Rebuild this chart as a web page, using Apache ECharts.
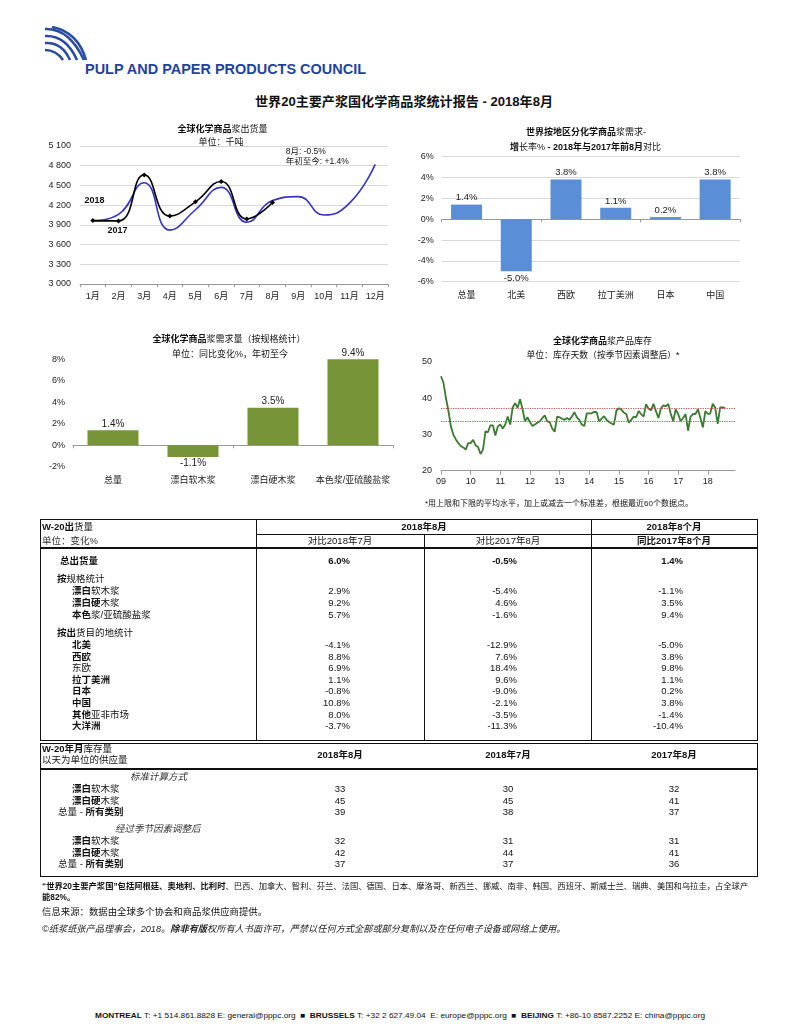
<!DOCTYPE html>
<html><head><meta charset="utf-8">
<script src="https://cdn.jsdelivr.net/npm/echarts@6/dist/echarts.min.js"></script>
<style>
body{margin:0;background:#fff;}
#page{position:relative;width:800px;height:1036px;overflow:hidden;font-family:'Liberation Sans','Noto Sans CJK SC',sans-serif;color:#111;}
.abs{position:absolute;white-space:nowrap;}
#charts{position:absolute;left:0;top:0;width:800px;height:520px;}
.box{position:absolute;border:1.5px solid #111;box-sizing:border-box;}
.ln{position:absolute;background:#111;}
.t{position:absolute;white-space:nowrap;font-size:9.5px;line-height:12px;}
.num{font-family:'Liberation Sans Narrow','Liberation Sans',sans-serif;font-size:9.5px;}
b{font-weight:bold;}
</style></head>
<body><div id="page">
<svg class="abs" style="left:44px;top:26px" width="44" height="36" viewBox="0 0 44 36">
 <g fill="none" stroke="#2a4ca3" stroke-width="2.6">
  <path d="M1 3 Q25 2 40 34"/>
  <path d="M1 10 Q22 9 33 34"/>
  <path d="M1 17 Q18 16 26 34"/>
  <path d="M1 24 Q12 24 19 34"/>
  <path d="M8 1 Q34 6 42 34"/>
 </g>
</svg>
<div id="org" class="abs" style="left:85px;top:62px;font-size:14px;font-weight:bold;color:#1f43a0;line-height:14px;">PULP AND PAPER PRODUCTS COUNCIL</div>
<div id="maintitle" class="abs" style="left:404px;top:102px;font-size:13px;font-weight:bold;line-height:14px;transform:translate(-50%,-50%)">世界20主要产浆国化学商品浆统计报告 - 2018年8月</div>
<div id="charts"></div>
<div id="tables"></div>
<div class="abs" style="left:42px;top:881px;font-size:8.3px;line-height:11px;">
<b>“世界20主要产浆国”包括阿根廷、奥地利、比利时</b>、巴西、加拿大、智利、芬兰、法国、德国、日本、摩洛哥、新西兰、挪威、南非、韩国、西班牙、斯威士兰、瑞典、美国和乌拉圭，占全球产<br><b>能82%。</b></div>
<div class="abs" style="left:42px;top:906px;font-size:9.4px;line-height:12px;">信息来源：数据由全球多个协会和商品浆供应商提供。</div>
<div class="abs" style="left:42px;top:923px;font-size:9.2px;line-height:12px;font-style:italic;color:#222">©纸浆纸张产品理事会，2018。<b>除非有版</b>权所有人书面许可，严禁以任何方式全部或部分复制以及在任何电子设备或网络上使用。</div>
<div id="footer" class="abs" style="left:400px;top:1016px;font-size:7.6px;line-height:10px;transform:translate(-50%,-50%)"><b>MONTREAL</b> T: +1 514.861.8828 E: general@pppc.org &nbsp;■&nbsp; <b>BRUSSELS</b> T: +32 2 627.49.04 &nbsp;E: europe@pppc.org &nbsp;■&nbsp; <b>BEIJING</b> T: +86-10 8587.2252 E: china@pppc.org</div>
</div>
<script>
// ---------- data ----------
const shipMonths = ['1月','2月','3月','4月','5月','6月','7月','8月','9月','10月','11月','12月'];
const ship2017 = [3960,4060,4540,3820,4130,4470,3940,4270,4330,4050,4230,4820];
const ship2018 = [3965,3960,4660,4035,4250,4560,3990,4240];
const regionCats = ['总量','北美','西欧','拉丁美洲','日本','中国'];
const regionGrowth = [1.4,-5.0,3.8,1.1,0.2,3.8];
const gradeCats = ['总量','漂白软木浆','漂白硬木浆','本色浆/亚硫酸盐浆'];
const gradeGrowth = [1.4,-1.1,3.5,9.4];
const invYearLabels = ['09','10','11','12','13','14','15','16','17','18'];
const invDays = [46.0,44.2,40.0,36.5,32.2,29.9,28.6,27.6,26.8,26.4,25.8,27.6,
 27.6,28.5,27.0,26.5,24.6,25.8,30.8,30.6,32.5,32.5,29.7,32.2,
 32.7,31.6,32.7,34.9,32.7,37.4,38.6,37.3,39.7,36.9,33.6,34.7,
 33.4,32.3,32.7,33.2,33.6,34.5,35.2,33.6,33.4,31.6,30.7,34.9,
 34.7,34.3,34.0,34.5,34.0,34.9,36.1,34.7,34.0,32.7,32.3,35.8,
 35.8,35.8,36.2,36.1,33.6,34.3,35.0,34.0,33.4,33.0,32.7,36.5,
 37.2,36.8,36.0,35.6,33.2,34.0,34.9,34.7,36.4,35.6,34.9,38.3,
 37.1,36.6,38.4,36.4,34.5,37.1,38.0,37.7,38.4,35.6,33.6,36.9,
 35.6,33.6,34.5,35.6,31.0,34.9,35.6,35.6,36.9,34.5,31.9,36.4,
 35.6,35.8,38.4,37.3,32.9,37.4,37.4,37.2];
const invUpper = 37.2;
const invLower = 33.6;

const shipColHeads = ['对比2018年7月','对比2017年8月','<b>同比2017年8个月</b>'];
const shipTotal = ['6.0%','-0.5%','1.4%'];
const shipGradeRows = [
 ['<b>漂白</b>软木浆','2.9%','-5.4%','-1.1%'],
 ['<b>漂白硬</b>木浆','9.2%','4.6%','3.5%'],
 ['<b>本色</b>浆/亚硫酸盐浆','5.7%','-1.6%','9.4%']];
const shipDestRows = [
 ['<b>北美</b>','-4.1%','-12.9%','-5.0%'],
 ['<b>西欧</b>','8.8%','7.6%','3.8%'],
 ['东欧','6.9%','18.4%','9.8%'],
 ['<b>拉丁美洲</b>','1.1%','9.6%','1.1%'],
 ['<b>日本</b>','-0.8%','-9.0%','0.2%'],
 ['<b>中国</b>','10.8%','-2.1%','3.8%'],
 ['<b>其他</b>亚非市场','8.0%','-3.5%','-1.4%'],
 ['<b>大洋洲</b>','-3.7%','-11.3%','-10.4%']];
const invColHeads = ['2018年8月','2018年7月','2017年8月'];
const invStdRows = [
 ['<b>漂白</b>软木浆','33','30','32'],
 ['<b>漂白硬</b>木浆','45','45','41'],
 ['总量 - <b>所有类别</b>','39','38','37']];
const invSaRows = [
 ['<b>漂白</b>软木浆','32','31','31'],
 ['<b>漂白硬</b>木浆','42','44','41'],
 ['总量 - <b>所有类别</b>','37','37','36']];

// ---------- tables (HTML) ----------
const T = document.getElementById('tables');
function el(html, css, cls){ const d=document.createElement('div'); d.className=cls||'t'; d.innerHTML=html; d.style.cssText=css; T.appendChild(d); return d; }
function txt(html, x, y, align, extra, cls){
  let tr = align==='right' ? 'translate(-100%,-50%)' : align==='center' ? 'translate(-50%,-50%)' : 'translateY(-50%)';
  return el(html, `left:${x}px;top:${y}px;transform:${tr};${extra||''}`, cls);
}
function line(x,y,w,h){ el('', `left:${x}px;top:${y}px;width:${w}px;height:${h}px;`, 'ln'); }
const numRight = [350, 517, 683];
const colCenter = [340, 508, 674];
// table 1 frame
el('', 'left:40px;top:519px;width:718px;height:222px;', 'box');
line(256,519,1,222); line(424,534,1,207); line(591,519,1,222);
line(256,534,502,1); line(40,547,718,2);
txt('<b>W-20出</b>货量', 42, 527);
txt('单位：变化%', 42, 541, 'left', 'color:#333');
txt('<b>2018年8月</b>', 424, 527, 'center');
txt('<b>2018年8个月</b>', 674, 527, 'center');
shipColHeads.forEach((h,i)=>txt(h, colCenter[i], 541, 'center'));
txt('<b>总出货量</b>', 60, 561);
shipTotal.forEach((v,i)=>txt('<b>'+v+'</b>', numRight[i], 561, 'right', '', 't num'));
txt('<b>按</b>规格统计', 57, 579);
shipGradeRows.forEach((r,k)=>{ const y=591+k*12; txt(r[0],72,y); for(let i=0;i<3;i++) txt(r[i+1],numRight[i],y,'right','','t num'); });
txt('<b>按出</b>货目的地统计', 57, 633);
shipDestRows.forEach((r,k)=>{ const y=645+k*11.6; txt(r[0],72,y); for(let i=0;i<3;i++) txt(r[i+1],numRight[i],y,'right','','t num'); });
// table 2 frame
el('', 'left:40px;top:743px;width:718px;height:134px;', 'box');
line(40,768,718,2);
txt('<b>W-20年月</b>库存量', 42, 749);
txt('以天为单位的供应量', 42, 760);
invColHeads.forEach((h,i)=>txt('<b>'+h+'</b>', colCenter[i], 755, 'center'));
txt('<i>标准计算方式</i>', 130, 777, 'left', 'color:#333');
invStdRows.forEach((r,k)=>{ const y=789+k*11.6; txt(r[0], k===2?58:72, y); for(let i=0;i<3;i++) txt(r[i+1],colCenter[i],y,'center','','t num'); });
txt('<i>经过季节因素调整后</i>', 115, 829, 'left', 'color:#333');
invSaRows.forEach((r,k)=>{ const y=841+k*11.6; txt(r[0], k===2?58:72, y); for(let i=0;i<3;i++) txt(r[i+1],colCenter[i],y,'center','','t num'); });

// ---------- charts ----------
const FF = "'Liberation Sans','Noto Sans CJK SC',sans-serif";
function gtext(x, y, text, size, align, rich){
  const r = {};
  for (const k in (rich||{})) r[k] = Object.assign({fontSize:size, fontFamily:FF, fill:'#111', color:'#111'}, rich[k]);
  return {type:'text', x, y, silent:true, style:{text, rich:r, fontSize:size, fontFamily:FF, fill:'#111', align:align||'center', verticalAlign:'middle'}};
}
const B = {b:{fontWeight:'bold'}, r:{fontWeight:'normal'}};
const axisGray = '#9a9a9a';
const labelStyle = {fontSize:9, color:'#222', fontFamily:FF};
const pct1 = p => p.value.toFixed(1) + '%';

const chart = echarts.init(document.getElementById('charts'), null, {renderer:'canvas'});
chart.setOption({
  animation:false,
  textStyle:{fontFamily:FF},
  grid:[
    {left:80, top:146, width:308, height:138},
    {left:441.7, top:156.7, width:298.3, height:125},
    {left:73, top:359.3, width:320, height:107.4},
    {left:441, top:361.7, width:294, height:109}
  ],
  xAxis:[
    {gridIndex:0, type:'category', data:shipMonths, boundaryGap:true,
     axisLine:{lineStyle:{color:axisGray}}, axisTick:{show:true, length:3, lineStyle:{color:axisGray}},
     axisLabel:Object.assign({margin:8, interval:0}, labelStyle)},
    {gridIndex:1, type:'category', data:regionCats, position:'bottom',
     axisLine:{show:false, onZero:false}, axisTick:{show:false}, axisLabel:Object.assign({margin:9, interval:0}, labelStyle)},
    {gridIndex:1, type:'category', data:regionCats, position:'bottom',
     axisLine:{show:true, onZero:true, lineStyle:{color:axisGray}}, axisTick:{show:true, length:3, lineStyle:{color:axisGray}}, axisLabel:{show:false}},
    {gridIndex:2, type:'category', data:gradeCats, position:'bottom',
     axisLine:{show:false, onZero:false}, axisTick:{show:false}, axisLabel:Object.assign({margin:9, interval:0}, labelStyle)},
    {gridIndex:2, type:'category', data:gradeCats, position:'bottom',
     axisLine:{show:true, onZero:true, lineStyle:{color:axisGray}}, axisTick:{show:true, length:3, lineStyle:{color:axisGray}}, axisLabel:{show:false}},
    {gridIndex:3, type:'value', min:0, max:119, interval:12,
     axisLine:{lineStyle:{color:axisGray}}, axisTick:{show:true, length:4, lineStyle:{color:axisGray}}, splitLine:{show:false},
     axisLabel:Object.assign({margin:6, showMaxLabel:false, formatter:v => (v%12===0 && v/12 < invYearLabels.length) ? invYearLabels[v/12] : ''}, labelStyle)}
  ],
  yAxis:[
    {gridIndex:0, type:'value', min:3000, max:5100, interval:300, axisLine:{show:false}, axisTick:{show:false},
     splitLine:{lineStyle:{color:'#d9d9d9'}},
     axisLabel:Object.assign({margin:9, formatter:v => String(v).replace(/\B(?=(\d{3})+(?!\d))/g,' ')}, labelStyle)},
    {gridIndex:1, type:'value', min:-6, max:6, interval:2, axisLine:{show:false}, axisTick:{show:false},
     splitLine:{lineStyle:{color:'#d9d9d9'}}, axisLabel:Object.assign({margin:8, formatter:'{value}%'}, labelStyle)},
    {gridIndex:2, type:'value', min:-2, max:8, interval:2, axisLine:{show:false}, axisTick:{show:false},
     splitLine:{show:false}, axisLabel:Object.assign({margin:8, formatter:'{value}%'}, labelStyle)},
    {gridIndex:3, type:'value', min:20, max:50, interval:10, axisLine:{show:false}, axisTick:{show:false},
     splitLine:{show:false}, axisLabel:Object.assign({margin:9}, labelStyle)}
  ],
  series:[
    {type:'line', name:'2017', xAxisIndex:0, yAxisIndex:0, data:ship2017, smooth:0.5, symbol:'none',
     lineStyle:{color:'#3333c4', width:1.6}, z:2},
    {type:'line', name:'2018', xAxisIndex:0, yAxisIndex:0, data:ship2018, smooth:0.5, symbol:'diamond', symbolSize:5,
     itemStyle:{color:'#000'}, lineStyle:{color:'#000', width:1.6}, z:3},
    {type:'bar', xAxisIndex:1, yAxisIndex:1, barWidth:31,
     data:regionGrowth.map(v => ({value:v, label:{position: v<0 ? 'bottom' : 'top'}})),
     itemStyle:{color:'#5a8ed6'},
     label:{show:true, distance:2, formatter:pct1, fontSize:9.5, color:'#222', fontFamily:FF}},
    {type:'bar', xAxisIndex:3, yAxisIndex:2, barWidth:51,
     data:gradeGrowth.map(v => ({value:v, label:{position: v<0 ? 'bottom' : 'top'}})),
     itemStyle:{color:'#779438'},
     label:{show:true, distance:1, formatter:pct1, fontSize:10, color:'#222', fontFamily:FF}},
    {type:'line', xAxisIndex:5, yAxisIndex:3, data:invDays.map((v,i) => [i, v]), symbol:'none',
     lineStyle:{color:'#3b7a30', width:1.8},
     markLine:{silent:true, symbol:'none', label:{show:false},
       lineStyle:{color:'#c0504d', type:'dotted', width:1.2},
       data:[{yAxis:invUpper},{yAxis:invLower}]}}
  ],
  graphic:[
    gtext(222.5, 129.5, '{b|全球化学商品}{r|浆出货量}', 9, 'center', B),
    gtext(221, 143, '单位：千吨', 9, 'center'),
    gtext(94.5, 201, '{b|2018}', 9, 'center', B),
    gtext(117.5, 231, '{b|2017}', 9, 'center', B),
    gtext(285.7, 152, '8月: -0.5%', 8.5, 'left'),
    gtext(285.7, 162, '年初至今: +1.4%', 8.5, 'left'),
    gtext(586, 132.7, '{b|世界按地区分化学商品}{r|浆需求-}', 9, 'center', B),
    gtext(585.5, 148, '{b|增}{r|长率%}{b| - 2018年与2017年前8月}{r|对比}', 9, 'center', B),
    gtext(229, 340, '{b|全球化学商品}{r|浆需求量（按规格统计）}', 9, 'center', B),
    gtext(230, 355, '单位：同比变化%，年初至今', 9, 'center'),
    gtext(602.5, 341.7, '{b|全球化学商品}{r|浆产品库存}', 9, 'center', B),
    gtext(603, 356, '单位：库存天数（按季节因素调整后）*', 8.8, 'center'),
    gtext(425, 503.3, '*用上限和下限的平均水平，加上或减去一个标准差，根据最近60个数据点。', 8, 'left')
  ]
});

// fit a few text lines to reference widths
function fit(id, target, centered){
  const e = document.getElementById(id);
  const w = e.getBoundingClientRect().width;
  const k = target / w;
  if (centered) { e.style.transform = `translate(-50%,-50%) scaleX(${k})`; }
  else { e.style.transformOrigin = 'left center'; e.style.transform = `scaleX(${k})`; }
}
fit('org', 281, false);
fit('maintitle', 298, true);
fit('footer', 610, true);
</script>
</body></html>
